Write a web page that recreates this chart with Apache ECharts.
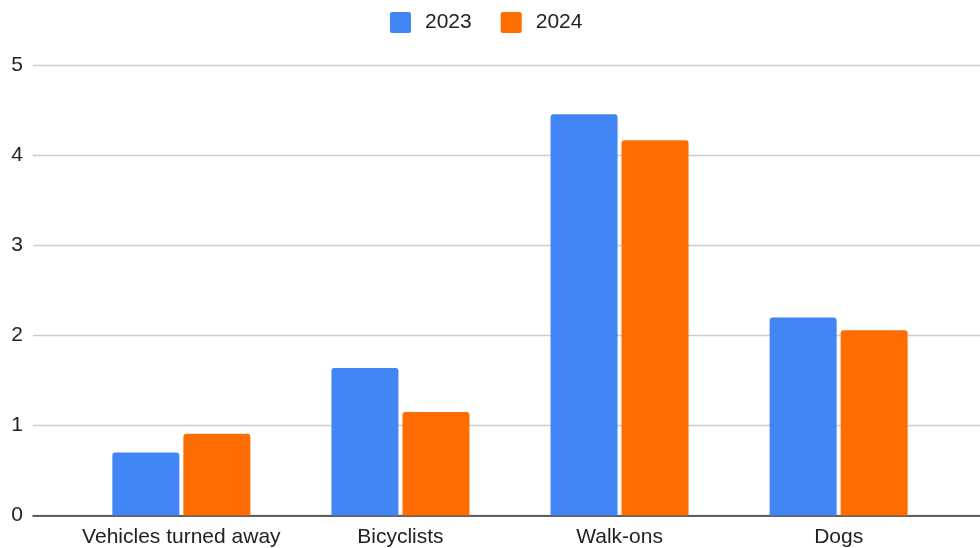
<!DOCTYPE html>
<html>
<head>
<meta charset="utf-8">
<script src="https://cdn.jsdelivr.net/npm/echarts@6/dist/echarts.min.js"></script>
<style>html,body{margin:0;padding:0;background:#fff;}#c{width:980px;height:548px;}</style>
</head>
<body>
<div id="c"></div>
<script>
const categories = ['Vehicles turned away', 'Bicyclists', 'Walk-ons', 'Dogs'];
const seriesNames = ['2023', '2024'];
const values2023 = [0.70, 1.64, 4.46, 2.20];
const values2024 = [0.91, 1.15, 4.17, 2.06];
const yTicks = [0, 1, 2, 3, 4, 5];

const chart = echarts.init(document.getElementById('c'), null, {renderer: 'canvas'});
const font = 'Liberation Sans, Arial, Helvetica, sans-serif';
const yMin = yTicks[0], yMax = yTicks[yTicks.length - 1], yStep = yTicks[1] - yTicks[0];
chart.setOption({
  animation: false,
  backgroundColor: '#ffffff',
  color: ['#4285F4', '#FF6D01'],
  legend: {
    data: seriesNames,
    left: 385, top: 7,
    itemWidth: 21, itemHeight: 21, itemGap: 29,
    icon: 'path://M2,0 L19,0 Q21,0 21,2 L21,19 Q21,21 19,21 L2,21 Q0,21 0,19 L0,2 Q0,0 2,0 Z',
    textStyle: {fontFamily: font, fontSize: 21, color: '#222', padding: [0, 0, 0, 9]}
  },
  grid: [
    {left: 33, right: 0, top: 65.7, bottom: 32.5},
    {left: 71.8, right: 31.8, top: 65.7, bottom: 32.5}
  ],
  xAxis: [
    {type: 'category', gridIndex: 0, data: categories,
     axisLine: {show: true, lineStyle: {color: '#333', width: 1.6}},
     axisTick: {show: false}, axisLabel: {show: false}},
    {type: 'category', gridIndex: 1, data: categories,
     axisLine: {show: false}, axisTick: {show: false},
     axisLabel: {interval: 0, fontFamily: font, fontSize: 21, color: '#222', margin: 11}}
  ],
  yAxis: [
    {type: 'value', gridIndex: 0, min: yMin, max: yMax, interval: yStep,
     axisLine: {show: false}, axisTick: {show: false},
     axisLabel: {fontFamily: font, fontSize: 21, color: '#222', margin: 10},
     splitLine: {lineStyle: {color: '#cccccc', width: 1.3}}},
    {type: 'value', gridIndex: 1, min: yMin, max: yMax, interval: yStep, show: false,
     splitLine: {show: false}}
  ],
  series: [
    {name: seriesNames[0], type: 'bar', xAxisIndex: 1, yAxisIndex: 1, data: values2023,
     barWidth: 67, barGap: '6%', itemStyle: {borderRadius: [3, 3, 0, 0]}},
    {name: seriesNames[1], type: 'bar', xAxisIndex: 1, yAxisIndex: 1, data: values2024,
     barWidth: 67, barGap: '6%', itemStyle: {borderRadius: [3, 3, 0, 0]}}
  ]
});
</script>
</body>
</html>
